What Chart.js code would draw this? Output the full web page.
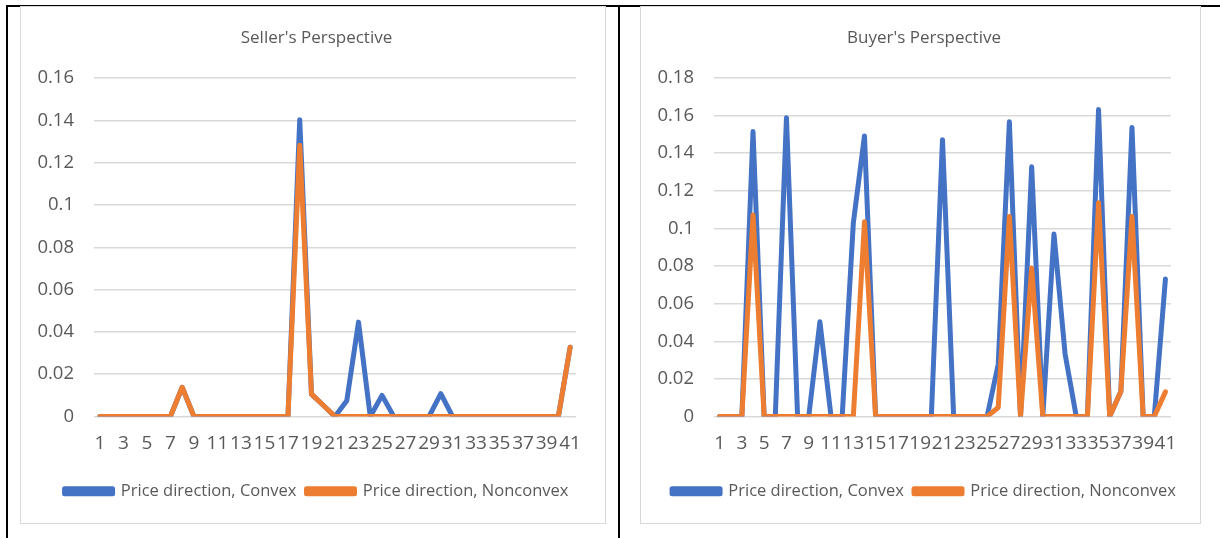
<!DOCTYPE html>
<html>
<head>
<meta charset="utf-8">
<script src="https://cdn.jsdelivr.net/npm/chart.js@4.4.1/dist/chart.umd.min.js"></script>
<style>
  html, body { margin: 0; padding: 0; background: #ffffff; }
  body { width: 1220px; height: 538px; position: relative; overflow: hidden; }
  .rule { position: absolute; background: #000000; }
  .box { position: absolute; border: 1px solid #d9d9d9; box-sizing: border-box; background: #ffffff; }
  .box canvas { position: absolute; left: 0; top: 0; }
</style>
</head>
<body>
<!-- table frame -->
<div class="rule" style="left:6px; top:5px; width:1214px; height:2px;"></div>
<div class="rule" style="left:6px; top:5px; width:2px; height:533px;"></div>
<div class="rule" style="left:618px; top:5px; width:2px; height:533px;"></div>

<div class="box" style="left:20px; top:6px; width:586px; height:518px;">
  <canvas id="seller" width="585" height="517"></canvas>
</div>
<div class="box" style="left:640px; top:6px; width:561px; height:518px;">
  <canvas id="buyer" width="560" height="517"></canvas>
</div>

<script>
// periods 1..41
const periods = Array.from({length: 41}, (_, i) => String(i + 1));

// Seller's perspective
const sellerConvex = [
  0, 0, 0, 0, 0, 0, 0, 0.0138, 0, 0,
  0, 0, 0, 0, 0, 0, 0, 0.1403, 0.0106, 0.0053,
  0, 0.0074, 0.0446, 0, 0.0100, 0, 0, 0, 0, 0.0108,
  0, 0, 0, 0, 0, 0, 0, 0, 0, 0,
  0.0327
];
const sellerNonconvex = [
  0, 0, 0, 0, 0, 0, 0, 0.0138, 0, 0,
  0, 0, 0, 0, 0, 0, 0, 0.1282, 0.0106, 0.0053,
  0, 0, 0, 0, 0, 0, 0, 0, 0, 0,
  0, 0, 0, 0, 0, 0, 0, 0, 0, 0,
  0.0327
];

// Buyer's perspective
const buyerConvex = [
  0, 0, 0, 0.1515, 0, 0, 0.1588, 0, 0, 0.0504,
  0, 0, 0.1029, 0.1492, 0, 0, 0, 0, 0, 0,
  0.1472, 0, 0, 0, 0, 0.0278, 0.1568, 0, 0.1328, 0,
  0.0970, 0.0332, 0, 0, 0.1632, 0, 0.0133, 0.1537, 0, 0,
  0.0731
];
const buyerNonconvex = [
  0, 0, 0, 0.1072, 0, 0, 0, 0, 0, 0,
  0, 0, 0, 0.1035, 0, 0, 0, 0, 0, 0,
  0, 0, 0, 0, 0, 0.0048, 0.1064, 0, 0.0789, 0,
  0, 0, 0, 0, 0.1137, 0, 0.0133, 0.1064, 0, 0,
  0.0131
];

const seriesNames = ['Price direction, Convex', 'Price direction, Nonconvex'];
const seriesColors = ['#4472C4', '#ED7D31'];

const FONT = '"Open Sans", "Noto Sans", sans-serif';
const TEXT = '#595959';

function makeChart(id, title, convex, nonconvex, yMax) {
  const ds = [convex, nonconvex].map((data, k) => ({
    label: seriesNames[k],
    data: data,
    borderColor: seriesColors[k],
    backgroundColor: seriesColors[k],
    borderWidth: 5,
    pointRadius: 0,
    pointHoverRadius: 0,
    tension: 0,
    borderJoinStyle: 'round',
    borderCapStyle: 'round',
    order: 2 - k
  }));
  return new Chart(document.getElementById(id), {
    type: 'line',
    data: { labels: periods, datasets: ds },
    options: {
      responsive: false,
      animation: false,
      devicePixelRatio: 1,
      layout: { padding: { left: 6, right: 0, top: 0, bottom: 14.5 } },
      plugins: {
        tooltip: { enabled: false },
        title: {
          display: true,
          text: title,
          color: TEXT,
          font: { family: FONT, size: 17, weight: 'normal', lineHeight: 1.2 },
          padding: { top: 20.8, bottom: 29.8 }
        },
        legend: {
          position: 'bottom',
          labels: {
            color: TEXT,
            font: { family: FONT, size: 16.5 },
            boxWidth: 48,
            boxHeight: 5,
            padding: 10,
            sort: (a, b) => a.datasetIndex - b.datasetIndex
          }
        }
      },
      scales: {
        x: {
          type: 'category',
          offset: true,
          grid: { display: false, drawTicks: false },
          border: { display: false },
          ticks: {
            autoSkip: false,
            maxRotation: 0,
            minRotation: 0,
            padding: 16,
            color: TEXT,
            font: { family: FONT, size: 19 },
            callback: (v, i) => (i % 2 === 0 ? periods[i] : '')
          },
          afterFit: s => { s.height = 56.5; }
        },
        y: {
          min: 0,
          max: yMax,
          grid: { color: '#d9d9d9', lineWidth: 1.5, drawTicks: false },
          border: { display: false },
          ticks: {
            stepSize: 0.02,
            padding: 20,
            color: TEXT,
            font: { family: FONT, size: 18.5 },
            callback: v => String(Number(v.toFixed(2)))
          },
          afterFit: s => { s.width = 67; }
        },
        // empty right-hand margin box so the legend stays centred on the full width
        margin: {
          type: 'linear',
          position: 'right',
          display: true,
          grid: { display: false, drawTicks: false },
          border: { display: false },
          ticks: { display: false },
          afterFit: s => { s.width = 30; }
        }
      }
    }
  });
}

makeChart('seller', "Seller's Perspective", sellerConvex, sellerNonconvex, 0.16);
makeChart('buyer', "Buyer's Perspective", buyerConvex, buyerNonconvex, 0.18);
</script>
</body>
</html>
